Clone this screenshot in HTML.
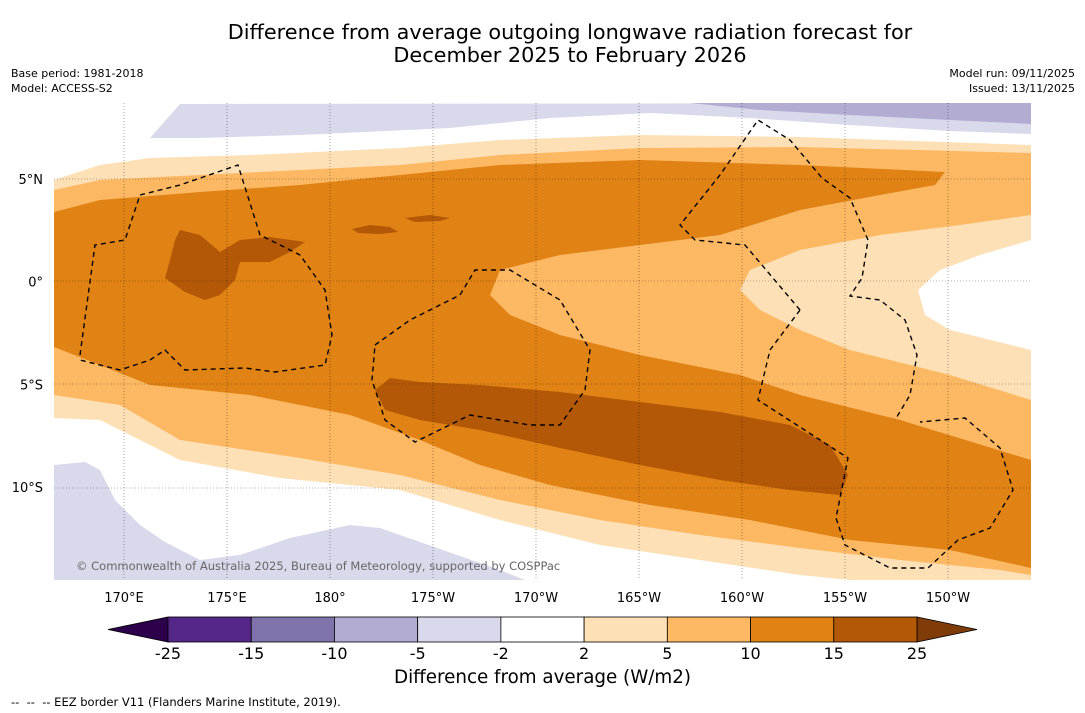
<!DOCTYPE html>
<html><head><meta charset="utf-8">
<style>
body{margin:0;background:#fff;font-family:"DejaVu Sans","Liberation Sans",sans-serif;}
#wrap{position:relative;width:1085px;height:713px;overflow:hidden;background:#fff}
.t{position:absolute;color:#000;white-space:nowrap}
svg text{font-family:"DejaVu Sans","Liberation Sans",sans-serif}
</style></head>
<body>
<div id="wrap">
<div class="t" style="left:0;width:1140px;text-align:center;top:21px;font-size:20.8px;line-height:23px">Difference from average outgoing longwave radiation forecast for<br>December 2025 to February 2026</div>
<div class="t" style="left:11px;top:66px;font-size:11px;line-height:15px">Base period: 1981-2018<br>Model: ACCESS-S2</div>
<div class="t" style="right:10px;top:66px;font-size:11px;line-height:15px;text-align:right">Model run: 09/11/2025<br>Issued: 13/11/2025</div>
<svg id="svg" width="1085" height="713" style="position:absolute;left:0;top:0">
<defs><clipPath id="mc"><rect x="54" y="103" width="977" height="477"/></clipPath></defs>
<g clip-path="url(#mc)">
<rect x="54" y="103" width="977" height="477" fill="#fff"/>
<polygon fill="#d8daeb" points="150,138 180,104 1031,103 1031,134 950,131 850,125 750,118 650,113 550,118 450,128 300,135 200,138"/>
<polygon fill="#b2abd2" points="690,103 1031,103 1031,124 950,120 850,115 760,110"/>
<polygon fill="#fee0b6" points="54,180 100,165 150,158 250,155 400,148 500,140 640,135 800,137 1031,145 1031,580 850,580 800,575 700,560 600,545 500,520 400,490 280,478 180,460 100,420 54,418"/>
<polygon fill="#d8daeb" points="54,465 85,462 100,470 115,500 140,525 165,542 200,560 240,555 290,538 350,525 380,528 420,542 460,556 500,570 525,580 54,580"/>
<polygon fill="#fdb863" points="54,190 100,180 200,175 300,170 400,165 500,155 640,148 800,147 1031,153 1031,575 1000,570 900,560 800,548 700,535 600,520 500,500 400,475 300,458 180,440 120,405 54,395"/>
<polygon fill="#fee0b6" points="1031,215 960,225 880,235 800,250 750,270 740,290 760,310 800,330 850,350 950,375 1031,400"/>
<polygon fill="#fff" points="1031,240 980,255 940,270 918,290 925,315 950,330 1031,350"/>
<polygon fill="#e08214" points="54,212 100,200 200,192 300,185 400,175 500,165 640,160 800,165 945,172 935,185 880,195 800,210 720,235 640,245 560,255 500,270 490,295 510,315 560,335 640,355 740,375 800,395 900,420 1031,460 1031,568 950,550 850,540 750,520 650,505 550,485 480,465 420,440 350,415 250,395 150,385 100,365 54,347"/>
<polygon fill="#b35806" points="180,230 200,235 220,252 240,240 270,237 305,242 290,252 270,262 240,262 235,280 220,295 205,300 185,292 165,278 170,260 175,240"/>
<polygon fill="#b35806" points="352,229 370,225 390,227 398,232 380,234 358,233"/>
<polygon fill="#b35806" points="405,218 430,215 450,218 440,221 415,222"/>
<polygon fill="#b35806" points="375,390 390,378 420,382 480,385 560,392 640,402 720,412 790,425 830,445 848,475 840,495 790,490 720,480 640,465 560,448 480,430 420,420 385,410"/>
<g stroke="#000" stroke-width="0.6" stroke-dasharray="1,2" opacity="0.6">
<line x1="124" y1="103" x2="124" y2="580"/><line x1="227" y1="103" x2="227" y2="580"/><line x1="330" y1="103" x2="330" y2="580"/><line x1="433" y1="103" x2="433" y2="580"/><line x1="536" y1="103" x2="536" y2="580"/><line x1="639" y1="103" x2="639" y2="580"/><line x1="742" y1="103" x2="742" y2="580"/><line x1="845" y1="103" x2="845" y2="580"/><line x1="948" y1="103" x2="948" y2="580"/>
<line x1="54" y1="179" x2="1031" y2="179"/><line x1="54" y1="281" x2="1031" y2="281"/><line x1="54" y1="384" x2="1031" y2="384"/><line x1="54" y1="488" x2="1031" y2="488"/>
</g>
<g fill="none" stroke="#000" stroke-width="1.4" stroke-dasharray="5,4">
<polyline points="80,355 95,245 125,240 140,195 180,185 238,165 260,235 300,255 325,290 332,335 325,365 275,372 245,368 185,370 165,350 150,360 120,370 80,360"/>
<polygon points="375,345 410,320 460,295 475,270 510,270 560,300 590,350 585,390 560,425 530,425 470,415 415,442 385,420 372,380"/>
<polyline points="800,310 745,245 695,240 680,225 720,175 758,120 790,140 822,178 850,198 868,240 862,278 850,296 880,300 905,320 917,355 910,395 895,420"/>
<polyline points="800,310 770,350 758,400 848,458 836,518 845,545 890,568 928,568 958,540 990,528 1013,490 1000,448 965,418 920,422"/>
</g>
<text x="76" y="570" font-size="11.5" fill="#666">© Commonwealth of Australia 2025, Bureau of Meteorology, supported by COSPPac</text>
</g>
<g id="axes" font-size="13" fill="#000"></g>
<g id="cbar"></g>
</svg>
<div class="t" style="left:0;width:1085px;text-align:center;top:667px;font-size:18.3px">Difference from average (W/m2)</div>
<div class="t" style="left:11px;top:695px;font-size:11.5px">-- &nbsp;-- &nbsp;-- EEZ border V11 (Flanders Marine Institute, 2019).</div>
</div>
<script>
const lonLabels=["170°E","175°E","180°","175°W","170°W","165°W","160°W","155°W","150°W"];
const latLabels=["5°N","0°","5°S","10°S"];
const levels=[-25,-15,-10,-5,-2,2,5,10,15,25];
const colors=["#542788","#8073ac","#b2abd2","#d8daeb","#ffffff","#fee0b6","#fdb863","#e08214","#b35806"];
const NS="http://www.w3.org/2000/svg";
const ax=document.getElementById('axes');
const lonX=i=>124+i*103;
const latY=i=>179+i*102.7;
lonLabels.forEach((s,i)=>{const t=document.createElementNS(NS,'text');t.setAttribute('x',lonX(i));t.setAttribute('y',602);t.setAttribute('text-anchor','middle');t.textContent=s;


ax.appendChild(t);});
latLabels.forEach((s,i)=>{const t=document.createElementNS(NS,'text');t.setAttribute('x',43);t.setAttribute('y',latY(i)+5);t.setAttribute('text-anchor','end');t.textContent=s;


ax.appendChild(t);});
const cb=document.getElementById('cbar');
const x0=168,x1=917,y0=617,h=25,w=(x1-x0)/colors.length;
const cx=i=>x0+i*w;
const l=document.createElementNS(NS,'polygon');l.setAttribute('points',`108,${y0+h/2} ${x0},${y0} ${x0},${y0+h}`);l.setAttribute('fill','#2d004b');l.setAttribute('stroke','#000');l.setAttribute('stroke-width','0.8');


cb.appendChild(l);
const r=document.createElementNS(NS,'polygon');r.setAttribute('points',`977,${y0+h/2} ${x1},${y0} ${x1},${y0+h}`);r.setAttribute('fill','#7f3b08');r.setAttribute('stroke','#000');r.setAttribute('stroke-width','0.8');


cb.appendChild(r);
colors.forEach((c,i)=>{const b=document.createElementNS(NS,'rect');b.setAttribute('x',cx(i));b.setAttribute('y',y0);b.setAttribute('width',w);b.setAttribute('height',h);b.setAttribute('fill',c);b.setAttribute('stroke','#000');b.setAttribute('stroke-width','0.8');


cb.appendChild(b);});
levels.forEach((v,i)=>{const t=document.createElementNS(NS,'text');t.setAttribute('x',cx(i));t.setAttribute('y',659);t.setAttribute('text-anchor','middle');t.setAttribute('font-size','16');t.textContent=v;


cb.appendChild(t);});
</script>
</body></html>
